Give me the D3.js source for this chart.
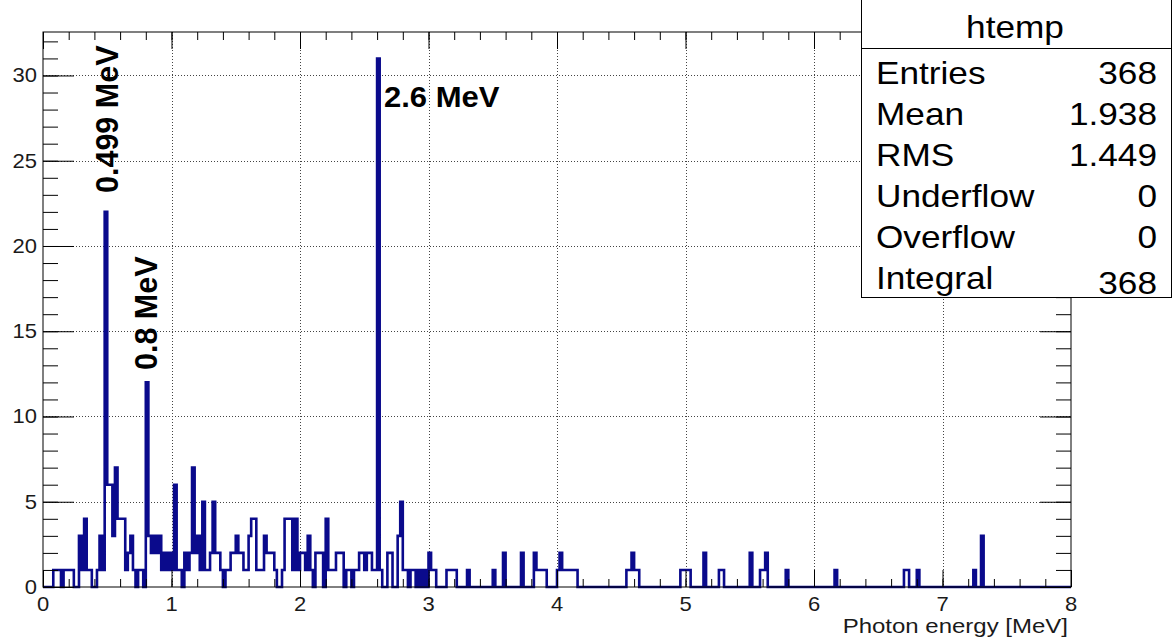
<!DOCTYPE html>
<html>
<head>
<meta charset="utf-8">
<script src="https://cdn.jsdelivr.net/npm/d3@7"></script>
<style>
  html, body { margin: 0; padding: 0; background: #fff; }
  svg { display: block; }
  text { font-family: "Liberation Sans", Arial, Helvetica, sans-serif; }
</style>
</head>
<body>
<script>
// histogram "htemp": 400 bins of 0.02 MeV from 0 to 8 MeV, one array per MeV
var binWidth = 0.02;
var counts0 = [0,0,0,0,1,1,1,0,1,1, 1,1,0,0,3,1,4,1,1,0, 0,1,3,1,22,6,6,3,7,4, 4,4,1,2,3,1,0,1,1,0, 12,3,2,3,2,3,1,2,1,2];
var counts1 = [1,6,1,1,0,2,1,2,7,2, 3,1,5,1,1,2,5,2,2,1, 0,1,1,2,2,3,2,2,1,1, 3,4,4,1,1,1,3,2,2,2, 1,0,0,1,4,4,4,1,4,1];
var counts2 = [2,2,1,3,1,0,2,2,2,0, 4,1,1,1,2,2,2,0,1,1, 0,1,1,2,2,1,2,2,1,1, 31,1,0,0,2,2,0,0,3,5, 1,1,0,1,1,0,1,0,1,0];
var counts3 = [2,1,1,0,0,0,0,1,1,1, 1,0,0,0,0,1,0,0,0,0, 0,0,0,0,0,1,0,0,0,2, 0,0,0,0,0,0,2,0,0,0, 0,2,1,1,1,1,0,0,0,0];
var counts4 = [1,2,1,1,1,1,1,1,0,0, 0,0,0,0,0,0,0,0,0,0, 0,0,0,0,0,0,0,1,1,2, 1,1,0,0,0,0,0,0,0,0, 0,0,0,0,0,0,0,0,1,1];
var counts5 = [1,1,0,0,0,0,0,2,0,0, 0,0,0,1,1,0,0,0,0,0, 0,0,0,0,0,2,0,0,0,1, 1,2,0,0,0,0,0,0,0,1, 0,0,0,0,0,0,0,0,0,0];
var counts6 = [0,0,0,0,0,0,0,0,1,0, 0,0,0,0,0,0,0,0,0,0, 0,0,0,0,0,0,0,0,0,0, 0,0,0,0,0,1,1,0,0,0, 1,0,0,0,0,0,0,0,0,0];
var counts7 = [0,0,0,0,0,0,0,0,0,0, 0,0,1,0,0,3,0,0,0,0, 0,0,0,0,0,0,0,0,0,0, 0,0,0,0,0,0,0,0,0,0, 0,0,0,0,0,0,0,0,0,0];

var xTicks = [0, 1, 2, 3, 4, 5, 6, 7, 8];
var yTicks = [0, 5, 10, 15, 20, 25, 30];

var peakLabels = ["0.499 MeV", "0.8 MeV", "2.6 MeV"];

var statNames = ["Entries", "Mean", "RMS", "Underflow", "Overflow", "Integral"];
var statValues = ["368", "1.938", "1.449", "0", "0", "368"];

var xTitle = "Photon energy [MeV]";
var histName = "htemp";

var counts = [].concat(counts0, counts1, counts2, counts3, counts4, counts5, counts6, counts7);
var bins = counts.map(function(c, i) { return { x0: i * binWidth, n: c }; });

var width = 1174, height = 637;
var frameL = 43, frameR = 1071, frameT = 32, frameB = 587;
var lineColor = "#0a0a8c";

var svg = d3.select("body").append("svg")
    .attr("width", width)
    .attr("height", height);

svg.append("rect").attr("width", width).attr("height", height).attr("fill", "#fff");

var yMax = 1.05 * d3.max(counts);
var x = d3.scaleLinear().domain([0, 8]).range([frameL, frameR]);
var y = d3.scaleLinear().domain([0, yMax]).range([frameB, frameT]);

// the source picture is a little wider than tall, so most text is stretched sideways by sx
function label(g, px, py, str, size, anchor, sx, rot) {
  return g.append("text")
      .attr("transform", "translate(" + px + "," + py + ") scale(" + sx + ",1)" + (rot ? " rotate(-90)" : ""))
      .attr("text-anchor", anchor)
      .attr("font-size", size)
      .text(str);
}

// grid
var grid = svg.append("g").attr("stroke", "#444").attr("stroke-width", 1).attr("stroke-dasharray", "1,2");
grid.selectAll(".gx").data(xTicks.slice(1, -1)).enter().append("line")
    .attr("x1", function(d) { return Math.round(x(d)) + 0.5; })
    .attr("x2", function(d) { return Math.round(x(d)) + 0.5; })
    .attr("y1", frameT).attr("y2", frameB);
grid.selectAll(".gy").data(yTicks.slice(1)).enter().append("line")
    .attr("y1", function(d) { return Math.round(y(d)) + 0.5; })
    .attr("y2", function(d) { return Math.round(y(d)) + 0.5; })
    .attr("x1", frameL).attr("x2", frameR);

// histogram outline
var pts = bins.map(function(b) { return [b.x0, b.n]; });
pts.push([8, counts[counts.length - 1]]);
var step = d3.line()
    .x(function(d) { return x(d[0]); })
    .y(function(d) { return y(d[1]); })
    .curve(d3.curveStepAfter);

svg.append("path")
    .attr("d", step(pts))
    .attr("fill", "none")
    .attr("stroke", lineColor)
    .attr("stroke-width", 2.6);

// tick marks on all four sides, pointing into the frame
var minorX = d3.range(0, 8.0001, 0.2);
var minorY = d3.range(0, Math.floor(yMax) + 1, 1);

function ticks(axis, at, vals, size) {
  var g = svg.append("g").attr("transform", at).call(axis.tickValues(vals).tickSize(size).tickSizeOuter(0).tickFormat(""));
  g.select(".domain").remove();
  g.selectAll("line").attr("stroke", "#000");
  return g;
}
ticks(d3.axisTop(x), "translate(0," + frameB + ")", minorX, 8);
ticks(d3.axisTop(x), "translate(0," + frameB + ")", xTicks, 17);
ticks(d3.axisBottom(x), "translate(0," + frameT + ")", minorX, 8);
ticks(d3.axisBottom(x), "translate(0," + frameT + ")", xTicks, 17);
ticks(d3.axisRight(y), "translate(" + frameL + ",0)", minorY, 15);
ticks(d3.axisRight(y), "translate(" + frameL + ",0)", yTicks, 31);
ticks(d3.axisLeft(y), "translate(" + frameR + ",0)", minorY, 15);
ticks(d3.axisLeft(y), "translate(" + frameR + ",0)", yTicks, 31);

svg.append("rect")
    .attr("x", frameL).attr("y", frameT)
    .attr("width", frameR - frameL).attr("height", frameB - frameT)
    .attr("fill", "none").attr("stroke", "#000").attr("stroke-width", 1);

// tick labels
var labels = svg.append("g").attr("fill", "#1a1a1a");
xTicks.forEach(function(d) { label(labels, x(d), 611, d, 20, "middle", 1.1); });
yTicks.forEach(function(d) { label(labels, 37, y(d) + 7, d, 20, "end", 1.1); });
label(labels, 1068, 633, xTitle, 20, "end", 1.2);

// peak labels
var peaks = svg.append("g").attr("font-weight", "bold").attr("fill", "#000");
label(peaks, 118, 193, peakLabels[0], 30.5, "start", 1, true);
label(peaks, 157, 370, peakLabels[1], 30.5, "start", 1, true);
label(peaks, 384, 107, peakLabels[2], 29, "start", 1.07);

// stats box
var box = svg.append("g");
box.append("rect")
    .attr("x", 861.5).attr("y", -1)
    .attr("width", 310).attr("height", 298.5)
    .attr("fill", "#fff").attr("stroke", "#000").attr("stroke-width", 1);
box.append("line")
    .attr("x1", 861).attr("x2", 1172).attr("y1", 48.5).attr("y2", 48.5)
    .attr("stroke", "#000");
label(box, 1015, 38, histName, 32, "middle", 1.1);
statNames.forEach(function(s, i) {
  label(box, 876, 84 + i * 41, s, 32, "start", 1.1);
  label(box, 1157, 84 + i * 41 + (i === 5 ? 5 : 0), statValues[i], 32, "end", 1.1);
});
</script>
</body>
</html>
